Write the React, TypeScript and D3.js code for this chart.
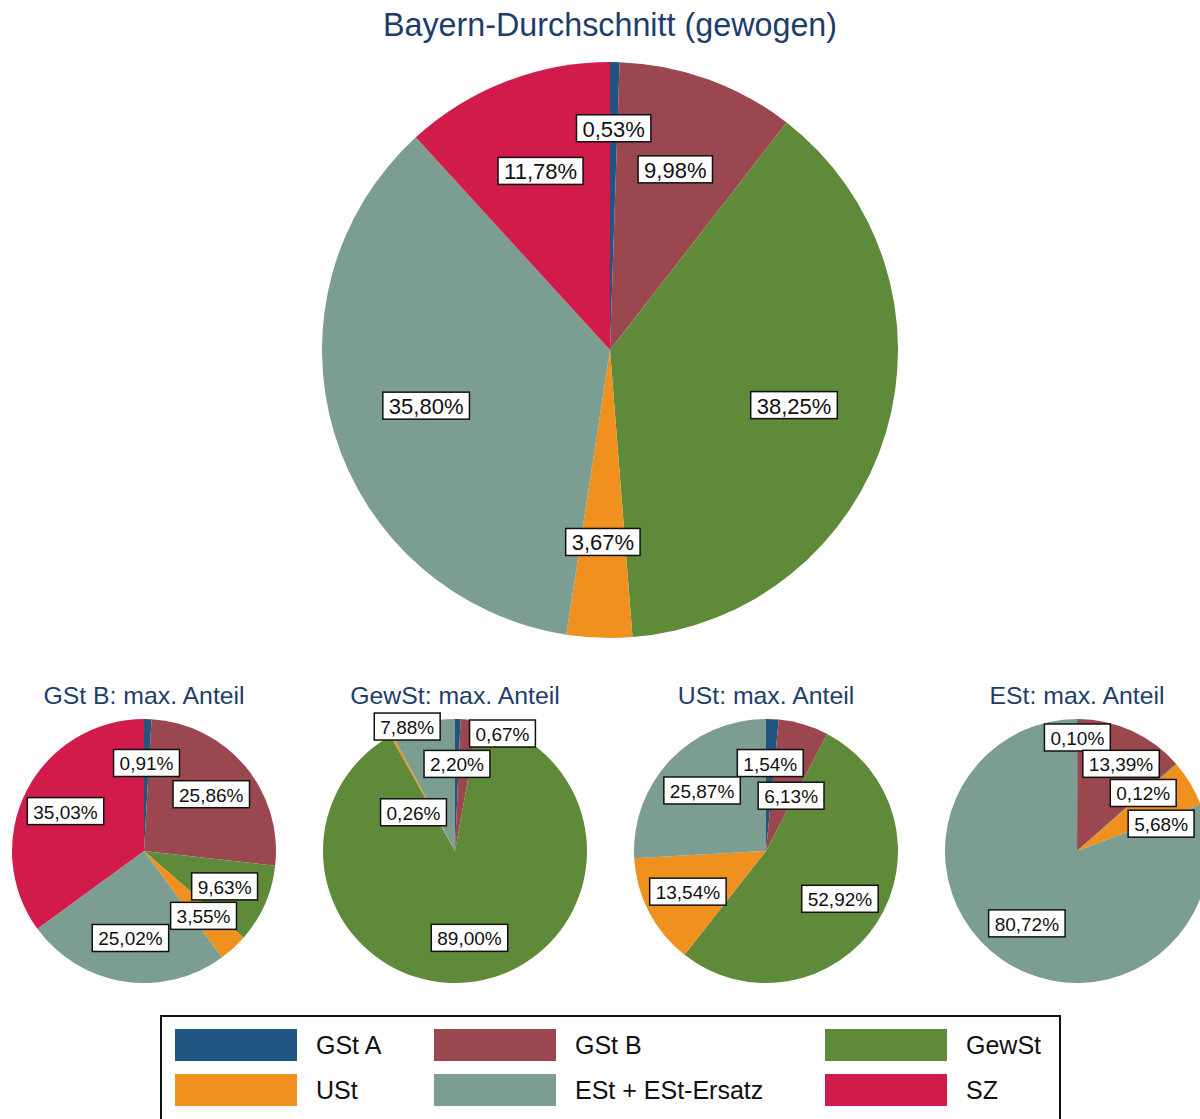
import React, { useEffect, useRef } from 'react';
import * as d3 from 'd3';

const categories = ['GSt A', 'GSt B', 'GewSt', 'USt', 'ESt + ESt-Ersatz', 'SZ'];
const colors = ['#1f5580', '#9a4750', '#5f8a3a', '#f0901f', '#7c9d92', '#d11c4b'];

const pieTitles = [
  'Bayern-Durchschnitt (gewogen)',
  'GSt B: max. Anteil',
  'GewSt: max. Anteil',
  'USt: max. Anteil',
  'ESt: max. Anteil',
];

const bayernAvg = [0.53, 9.98, 38.25, 3.67, 35.8, 11.78];
const gstBMax = [0.91, 25.86, 9.63, 3.55, 25.02, 35.03];
const gewStMax = [0.67, 2.2, 89.0, 0.26, 7.88, 0];
const uStMax = [1.54, 6.13, 52.92, 13.54, 25.87, 0];
const eStMax = [0.1, 13.39, 0.12, 5.68, 80.72, 0];

const pieValues = [bayernAvg, gstBMax, gewStMax, uStMax, eStMax];

// layout (not data): pie geometry
const pieLayout = [
  { cx: 610, cy: 350, r: 288, font: 22, titleY: 36, titleSize: 32.3 },
  { cx: 144, cy: 851, r: 132, font: 19, titleY: 704, titleSize: 24.8 },
  { cx: 455, cy: 851, r: 132, font: 19, titleY: 704, titleSize: 24.8 },
  { cx: 766, cy: 851, r: 132, font: 19, titleY: 704, titleSize: 24.8 },
  { cx: 1077, cy: 851, r: 132, font: 19, titleY: 704, titleSize: 24.8 },
];

// label placement tweaks (radius fraction, optional angle in degrees)
const labelTweaks: { pie: number; slice: number; rf: number; deg?: number }[] = [
  { pie: 0, slice: 0, rf: 0.77 },
  { pie: 2, slice: 0, rf: 0.96, deg: 22 },
  { pie: 2, slice: 1, rf: 0.66, deg: 1.3 },
  { pie: 2, slice: 3, rf: 0.43, deg: 313 },
  { pie: 2, slice: 4, rf: 1.01, deg: 339 },
  { pie: 3, slice: 1, rf: 0.46, deg: 24.4 },
  { pie: 4, slice: 0, rf: 0.86 },
  { pie: 4, slice: 1, rf: 0.74, deg: 26.8 },
  { pie: 4, slice: 3, rf: 0.67, deg: 72 },
];

const FONT = '"Liberation Sans", Arial, Helvetica, sans-serif';
const fmt = (v: number) => v.toFixed(2).replace('.', ',') + '%';

export default function App() {
  const ref = useRef<SVGSVGElement>(null);

  useEffect(() => {
    const svg = d3.select(ref.current);
    svg.selectAll('*').remove();
    svg.append('rect').attr('width', 1200).attr('height', 1119).attr('fill', '#ffffff');

    const pie = d3.pie<number>().sort(null).value((d) => d);

    pieValues.forEach((vals, pi) => {
      const L = pieLayout[pi];
      const g = svg.append('g').attr('transform', `translate(${L.cx},${L.cy})`);
      const arcs = pie(vals);
      const arc = d3.arc<d3.PieArcDatum<number>>().innerRadius(0).outerRadius(L.r);
      g.selectAll('path.slice')
        .data(arcs)
        .join('path')
        .attr('class', 'slice')
        .attr('d', arc)
        .attr('fill', (_d, i) => colors[i]);

      svg
        .append('text')
        .attr('x', L.cx)
        .attr('y', L.titleY)
        .attr('text-anchor', 'middle')
        .attr('font-family', FONT)
        .attr('font-size', L.titleSize)
        .attr('fill', '#1e3d6b')
        .text(pieTitles[pi]);

      arcs.forEach((a, si) => {
        if (a.data <= 0) return;
        const tw = labelTweaks.find((t) => t.pie === pi && t.slice === si);
        const rf = tw ? tw.rf : 0.667;
        const ang = tw && tw.deg !== undefined ? (tw.deg * Math.PI) / 180 : (a.startAngle + a.endAngle) / 2;
        const x = rf * L.r * Math.sin(ang);
        const y = -rf * L.r * Math.cos(ang);
        const lg = g.append('g').attr('transform', `translate(${x},${y})`);
        const rect = lg.append('rect');
        const t = lg
          .append('text')
          .attr('text-anchor', 'middle')
          .attr('dominant-baseline', 'central')
          .attr('y', 1)
          .attr('font-family', FONT)
          .attr('font-size', L.font)
          .attr('fill', '#111')
          .text(fmt(a.data));
        const w = (t.node() as SVGTextElement).getComputedTextLength() + 12;
        const h = 27;
        rect
          .attr('x', -w / 2)
          .attr('y', -h / 2)
          .attr('width', w)
          .attr('height', h)
          .attr('fill', '#ffffff')
          .attr('stroke', '#111')
          .attr('stroke-width', 1.5);
      });
    });

    // legend
    const lg = svg.append('g');
    lg.append('rect')
      .attr('x', 161)
      .attr('y', 1016)
      .attr('width', 899)
      .attr('height', 130)
      .attr('fill', '#ffffff')
      .attr('stroke', '#111')
      .attr('stroke-width', 2);
    const colX = [175, 434, 825];
    const rowY = [1029, 1074];
    categories.forEach((c, i) => {
      const col = i % 3;
      const row = Math.floor(i / 3);
      lg.append('rect')
        .attr('x', colX[col])
        .attr('y', rowY[row])
        .attr('width', 122)
        .attr('height', 32)
        .attr('fill', colors[i]);
      lg.append('text')
        .attr('x', colX[col] + 141)
        .attr('y', rowY[row] + 25)
        .attr('font-family', FONT)
        .attr('font-size', 25)
        .attr('fill', '#111')
        .text(c);
    });
  }, []);

  return (
    <svg
      ref={ref}
      width={1200}
      height={1119}
      style={{ position: 'absolute', left: 0, top: 0, display: 'block' }}
    />
  );
}
